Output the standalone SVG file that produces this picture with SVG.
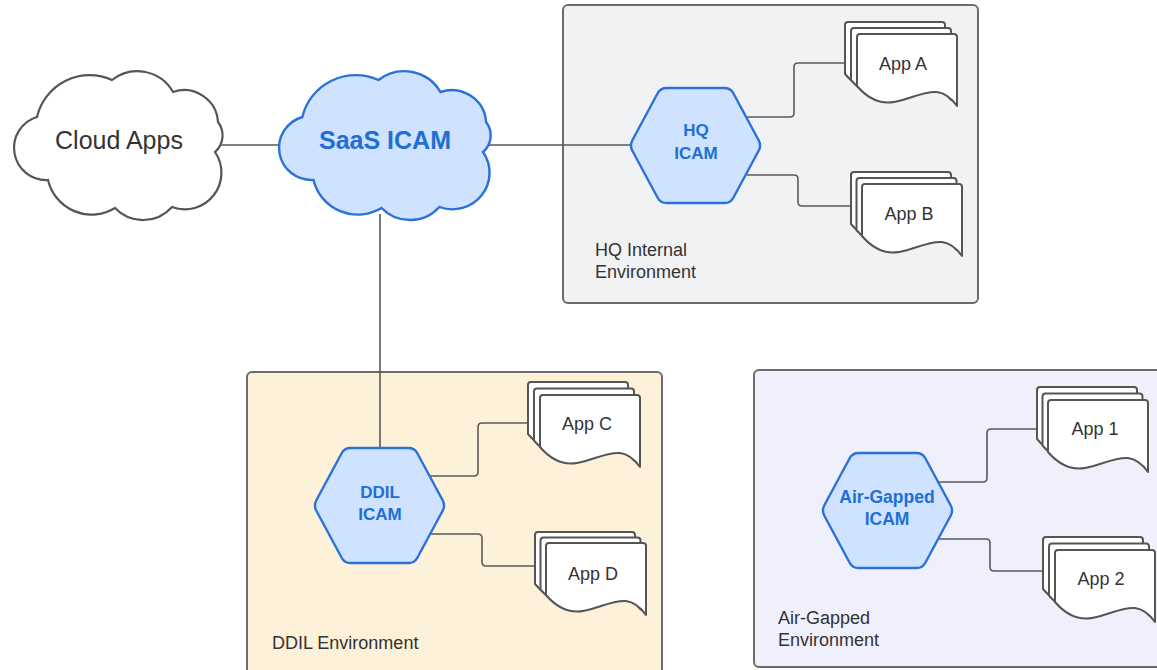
<svg xmlns="http://www.w3.org/2000/svg" xmlns:xlink="http://www.w3.org/1999/xlink" width="1157" height="670" viewBox="0 0 1157 670">
  <style>
    .env { stroke: #6b6b6b; stroke-width: 2; }
    .hq-env { fill: #f1f2f4; }
    .ddil-env { fill: #fdf1d9; }
    .air-env { fill: #f0f0fc; }
    .env-label { font-family: "Liberation Sans", Arial, sans-serif; font-size: 18px; fill: #333333; }
    .cloud-plain { fill: #ffffff; stroke: #555555; stroke-width: 2.2; }
    .cloud-blue { fill: #cfe2ff; stroke: #2a72d8; stroke-width: 2.4; }
    .hex { fill: #cfe2ff; stroke: #2a72d8; stroke-width: 2.4; stroke-linejoin: round; }
    .blue-text { font-family: "Liberation Sans", Arial, sans-serif; font-weight: bold; fill: #1e6fd6; text-anchor: middle; }
    .plain-text { font-family: "Liberation Sans", Arial, sans-serif; fill: #333333; text-anchor: middle; }
    .doc { fill: #ffffff; stroke: #555555; stroke-width: 2; stroke-linejoin: round; }
    .conn { fill: none; stroke: #595959; stroke-width: 1.6; }
  </style>
  <defs>
    <path id="docShape" d="M3,0 H97 Q100,0 100,3 V72 C95,65 88,59 80,58 C65,57 52,66 37,68 C25,70 12,66 0,52 V3 Q0,0 3,0 Z"/>
    <path id="cloudShape" d="M23,45 A54,54 0 0 1 98,8 A41,41 0 0 1 159,20 A34,34 0 0 1 204,50 A22,22 0 0 1 201,80 A36.6,36.6 0 0 1 158,135 A38.7,38.7 0 0 1 101,136 A44.8,44.8 0 0 1 34,108 A32.2,32.2 0 0 1 23,45 Z"/>
    <path id="hexShape" d="M2.85,52.2 L28.15,5.28 Q31,0 37,0 H95 Q101,0 103.85,5.28 L129.15,52.2 Q132,57.5 129.15,62.8 L103.85,109.7 Q101,115 95,115 H37 Q31,115 28.15,109.7 L2.85,62.8 Q0,57.5 2.85,52.2 Z"/>
  </defs>

  <!-- Environments -->
  <g id="hq-environment">
    <rect class="env hq-env" x="563" y="5" width="415" height="298" rx="5"/>
    <text class="env-label" x="595" y="256">HQ Internal</text>
    <text class="env-label" x="595" y="278">Environment</text>
  </g>
  <g id="ddil-environment">
    <rect class="env ddil-env" x="247" y="372" width="415" height="310" rx="5"/>
    <text class="env-label" x="272" y="649">DDIL Environment</text>
  </g>
  <g id="airgapped-environment">
    <rect class="env air-env" x="754" y="370" width="420" height="297" rx="5"/>
    <text class="env-label" x="778" y="624">Air-Gapped</text>
    <text class="env-label" x="778" y="646">Environment</text>
  </g>

  <!-- Connectors -->
  <g id="connectors">
    <path class="conn" d="M219,145 H281"/>
    <path class="conn" d="M488,145 H630"/>
    <path class="conn" d="M380,214 V449"/>
    <path class="conn" d="M747,117 H790 Q794,117 794,113 V67 Q794,63 798,63 H846"/>
    <path class="conn" d="M747,175 H794 Q798,175 798,179 V202 Q798,206 802,206 H852"/>
    <path class="conn" d="M429,476 H474 Q478,476 478,472 V427 Q478,423 482,423 H529"/>
    <path class="conn" d="M430,534 H478 Q482,534 482,538 V562 Q482,566 486,566 H536"/>
    <path class="conn" d="M938,482 H983 Q987,482 987,478 V433 Q987,429 991,429 H1038"/>
    <path class="conn" d="M938,539 H986 Q990,539 990,543 V567 Q990,571 994,571 H1044"/>
  </g>

  <!-- Clouds -->
  <g id="cloud-apps">
    <use href="#cloudShape" xlink:href="#cloudShape" class="cloud-plain" transform="translate(14,72)"/>
    <text class="plain-text" x="119" y="149" font-size="25">Cloud Apps</text>
  </g>
  <g id="saas-icam">
    <use href="#cloudShape" xlink:href="#cloudShape" class="cloud-blue" transform="translate(279,72) scale(1.015,1)"/>
    <text class="blue-text" x="385" y="149" font-size="25">SaaS ICAM</text>
  </g>

  <!-- Hexagons -->
  <g id="hq-icam">
    <use href="#hexShape" xlink:href="#hexShape" class="hex" transform="translate(629.5,88)"/>
    <text class="blue-text" x="696" y="136" font-size="17">HQ</text>
    <text class="blue-text" x="696" y="159" font-size="17">ICAM</text>
  </g>
  <g id="ddil-icam">
    <use href="#hexShape" xlink:href="#hexShape" class="hex" transform="translate(313.5,448)"/>
    <text class="blue-text" x="380" y="498" font-size="17">DDIL</text>
    <text class="blue-text" x="380" y="520" font-size="17">ICAM</text>
  </g>
  <g id="airgapped-icam">
    <use href="#hexShape" xlink:href="#hexShape" class="hex" transform="translate(821.5,453)"/>
    <text class="blue-text" x="887" y="503" font-size="17.5">Air-Gapped</text>
    <text class="blue-text" x="887" y="525" font-size="17.5">ICAM</text>
  </g>

  <!-- App document stacks -->
  <g id="app-a">
    <use href="#docShape" xlink:href="#docShape" class="doc" transform="translate(845,22)"/>
    <use href="#docShape" xlink:href="#docShape" class="doc" transform="translate(851,28)"/>
    <use href="#docShape" xlink:href="#docShape" class="doc" transform="translate(857,34)"/>
    <text class="plain-text" x="903" y="70" font-size="18">App A</text>
  </g>
  <g id="app-b">
    <use href="#docShape" xlink:href="#docShape" class="doc" transform="translate(851,172)"/>
    <use href="#docShape" xlink:href="#docShape" class="doc" transform="translate(856.5,178)"/>
    <use href="#docShape" xlink:href="#docShape" class="doc" transform="translate(862,184)"/>
    <text class="plain-text" x="909" y="220" font-size="18">App B</text>
  </g>
  <g id="app-c">
    <use href="#docShape" xlink:href="#docShape" class="doc" transform="translate(528,382)"/>
    <use href="#docShape" xlink:href="#docShape" class="doc" transform="translate(534,388.5)"/>
    <use href="#docShape" xlink:href="#docShape" class="doc" transform="translate(540,395)"/>
    <text class="plain-text" x="587" y="430" font-size="18">App C</text>
  </g>
  <g id="app-d">
    <use href="#docShape" xlink:href="#docShape" class="doc" transform="translate(535,532)"/>
    <use href="#docShape" xlink:href="#docShape" class="doc" transform="translate(540.5,537.5)"/>
    <use href="#docShape" xlink:href="#docShape" class="doc" transform="translate(546,543)"/>
    <text class="plain-text" x="593" y="580" font-size="18">App D</text>
  </g>
  <g id="app-1">
    <use href="#docShape" xlink:href="#docShape" class="doc" transform="translate(1037,387)"/>
    <use href="#docShape" xlink:href="#docShape" class="doc" transform="translate(1042.5,393.5)"/>
    <use href="#docShape" xlink:href="#docShape" class="doc" transform="translate(1048,400)"/>
    <text class="plain-text" x="1095" y="435" font-size="18">App 1</text>
  </g>
  <g id="app-2">
    <use href="#docShape" xlink:href="#docShape" class="doc" transform="translate(1043,537)"/>
    <use href="#docShape" xlink:href="#docShape" class="doc" transform="translate(1049,543.5)"/>
    <use href="#docShape" xlink:href="#docShape" class="doc" transform="translate(1055,550)"/>
    <text class="plain-text" x="1101" y="585" font-size="18">App 2</text>
  </g>
</svg>
